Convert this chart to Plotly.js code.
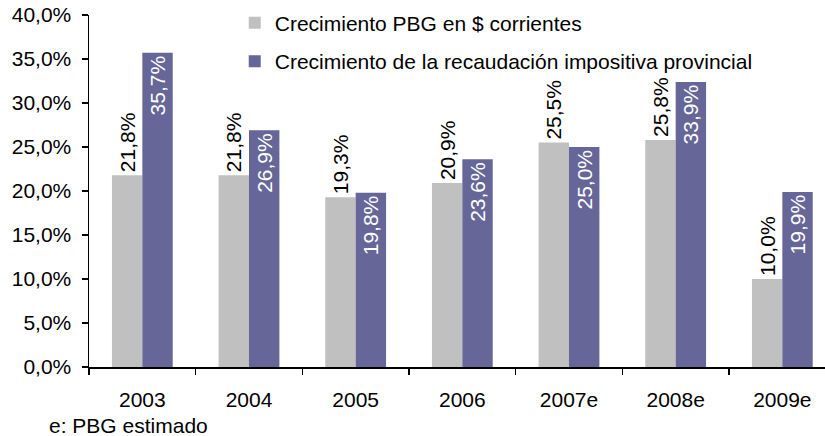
<!DOCTYPE html>
<html>
<head>
<meta charset="utf-8">
<script src="https://cdn.plot.ly/plotly-3.0.1.min.js"></script>
<style>
html,body{margin:0;padding:0;background:#fff;}
#chart{width:825px;height:436px;}
</style>
</head>
<body>
<div id="chart"></div>
<script>
var categories = ["2003", "2004", "2005", "2006", "2007e", "2008e", "2009e"];
var pbgValues = [21.8, 21.8, 19.3, 20.9, 25.5, 25.8, 10.0];
var pbgLabels = ["21,8%", "21,8%", "19,3%", "20,9%", "25,5%", "25,8%", "10,0%"];
var recValues = [35.7, 26.9, 19.8, 23.6, 25.0, 32.4, 19.9];
var recLabels = ["35,7%", "26,9%", "19,8%", "23,6%", "25,0%", "33,9%", "19,9%"];
var seriesNames = ["Crecimiento PBG en $ corrientes", "Crecimiento de la recaudación impositiva provincial"];
var yTicks = [0, 5, 10, 15, 20, 25, 30, 35, 40];
var yTickLabels = ["0,0%", "5,0%", "10,0%", "15,0%", "20,0%", "25,0%", "30,0%", "35,0%", "40,0%"];

var FONT = "Liberation Sans, Arial, sans-serif";
var FS = 21;

var traces = [
  {
    type: "bar", x: categories, y: pbgValues, name: seriesNames[0],
    legendgroup: "a",
    marker: {color: "#C0C0C0"},
    text: pbgLabels, textposition: "outside", textangle: -90,
    textfont: {family: FONT, size: FS, color: "#000"},
    constraintext: "none", cliponaxis: false, hoverinfo: "skip"
  },
  {
    type: "bar", x: categories, y: recValues, name: seriesNames[1],
    legendgroup: "b",
    marker: {color: "#666699"},
    text: recLabels, textposition: "inside", insidetextanchor: "end", textangle: -90,
    textfont: {family: FONT, size: FS, color: "#fff"},
    constraintext: "none", hoverinfo: "skip"
  }
];

var layout = {
  width: 825, height: 436,
  margin: {l: 89, r: 0, t: 15, b: 69, pad: 0},
  paper_bgcolor: "#fff", plot_bgcolor: "#fff",
  font: {family: FONT, size: FS, color: "#000"},
  separators: ",.",
  barmode: "group", bargap: 0.43, bargroupgap: 0,
  showlegend: true,
  legend: {
    x: 0.198, y: 1.035, xanchor: "left", yanchor: "top",
    bgcolor: "rgba(0,0,0,0)", tracegroupgap: 8,
    font: {family: FONT, size: FS, color: "#000"},
    traceorder: "grouped"
  },
  xaxis: {
    type: "category", range: [-0.5, 6.4],
    showline: true, linecolor: "#000", linewidth: 1.5,
    ticks: "outside", ticklen: 6, tickwidth: 1.5, tickcolor: "#000",
    tickson: "boundaries", showgrid: false, zeroline: false,
    tickfont: {family: FONT, size: FS, color: "#000"},
    ticklabelstandoff: 13
  },
  yaxis: {
    range: [0, 40], tickmode: "array", tickvals: yTicks, ticktext: yTickLabels,
    showline: true, linecolor: "#000", linewidth: 1.5,
    ticks: "outside", ticklen: 6, tickwidth: 1.5, tickcolor: "#000",
    showgrid: false, zeroline: false,
    tickfont: {family: FONT, size: FS, color: "#000"},
    ticklabelstandoff: 6
  },
  annotations: [
    {
      xref: "paper", yref: "paper", x: -0.057, y: -0.165,
      xanchor: "left", yanchor: "middle", showarrow: false,
      text: "e: PBG estimado",
      font: {family: FONT, size: FS, color: "#000"}
    }
  ]
};

Plotly.newPlot("chart", traces, layout, {displayModeBar: false, staticPlot: true});
</script>
</body>
</html>
